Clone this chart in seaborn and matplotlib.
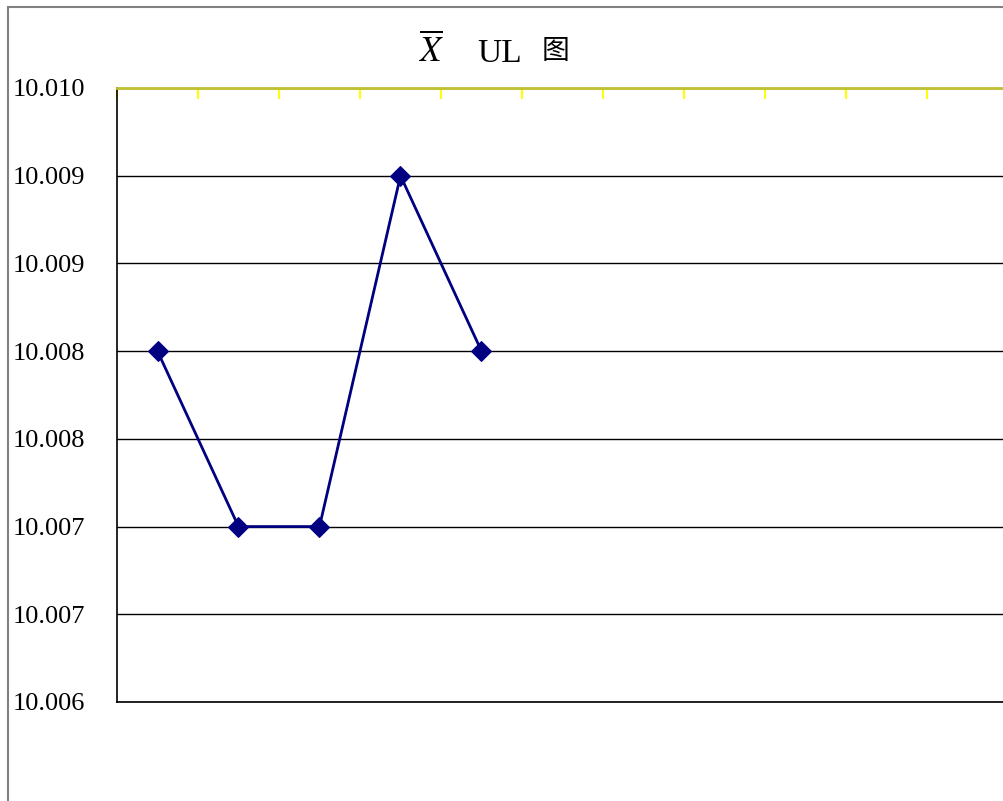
import matplotlib
matplotlib.use("Agg")
import matplotlib.pyplot as plt
from matplotlib.patches import Rectangle
import numpy as np
import seaborn as sns

# X-bar values for the subgroups that have data (11 category slots on the chart)
samples = [1, 2, 3, 4, 5]
xbar = [10.0085, 10.0075, 10.0075, 10.0095, 10.0085]
n_slots = 11

y_ticks = [10.0065, 10.0070, 10.0075, 10.0080, 10.0085, 10.0090, 10.0095, 10.0100]
y_labels = ["10.006", "10.007", "10.007", "10.008", "10.008", "10.009", "10.009", "10.010"]

sns.set_style("white")
plt.rcParams["font.family"] = ["Liberation Serif", "Noto Sans CJK SC", "DejaVu Sans"]
plt.rcParams["mathtext.fontset"] = "stix"
plt.rcParams["text.color"] = "black"
plt.rcParams["ytick.labelcolor"] = "black"

fig = plt.figure(figsize=(10.04, 8.01), dpi=100)
ax = fig.add_axes([117 / 1004, 1 - 702 / 801, 891 / 1004, (702 - 88) / 801])

sns.lineplot(x=samples, y=xbar, ax=ax, color="#000080", linewidth=2,
             marker="D", markersize=10, markeredgecolor="#000080", zorder=5)

ax.set_xlim(0.5, n_slots + 0.5)
ax.set_ylim(y_ticks[0], y_ticks[-1])
ax.set_yticks(y_ticks)
ax.set_yticklabels(y_labels, fontsize=19, color="black")
ax.tick_params(axis="y", length=0, pad=23)
ax.yaxis.grid(True, color="black", linewidth=1)
ax.set_xlabel("")
ax.set_ylabel("")

# category axis sits on top, yellow, inward ticks at slot boundaries
ax.xaxis.tick_top()
ax.set_xticks(np.arange(0.5, n_slots + 0.5, 1.0))
ax.set_xticklabels([])
ax.tick_params(axis="x", direction="in", length=8, width=1.5, color="#FFFF00")
ax.spines["top"].set_color("#C0C030")
ax.spines["top"].set_linewidth(2)
ax.spines["left"].set_color("black")
ax.spines["left"].set_linewidth(1.2)
ax.spines["bottom"].set_color("black")
ax.spines["bottom"].set_linewidth(1.2)
ax.spines["right"].set_visible(False)
ax.set_zorder(2)

# title pieces
fig.text(431 / 1004, 1 - 52 / 801, r"$\overline{X}$", fontsize=25, ha="center", va="center", color="black")
fig.text(500 / 1004, 1 - 54 / 801, "UL", fontsize=24, ha="center", va="center", color="black")
fig.text(556 / 1004, 1 - 51 / 801, "图", fontsize=20, ha="center", va="center", color="black",
         family=["Noto Sans CJK SC", "DejaVu Sans"])

# chart area border (right and bottom fall outside the image)
fig.patches.append(Rectangle((8 / 1004, -0.1), 1.2, 1.1 - 7 / 801, transform=fig.transFigure,
                             fill=False, edgecolor="#808080", linewidth=1.5, zorder=0))

fig.savefig("out.png", dpi=100)
